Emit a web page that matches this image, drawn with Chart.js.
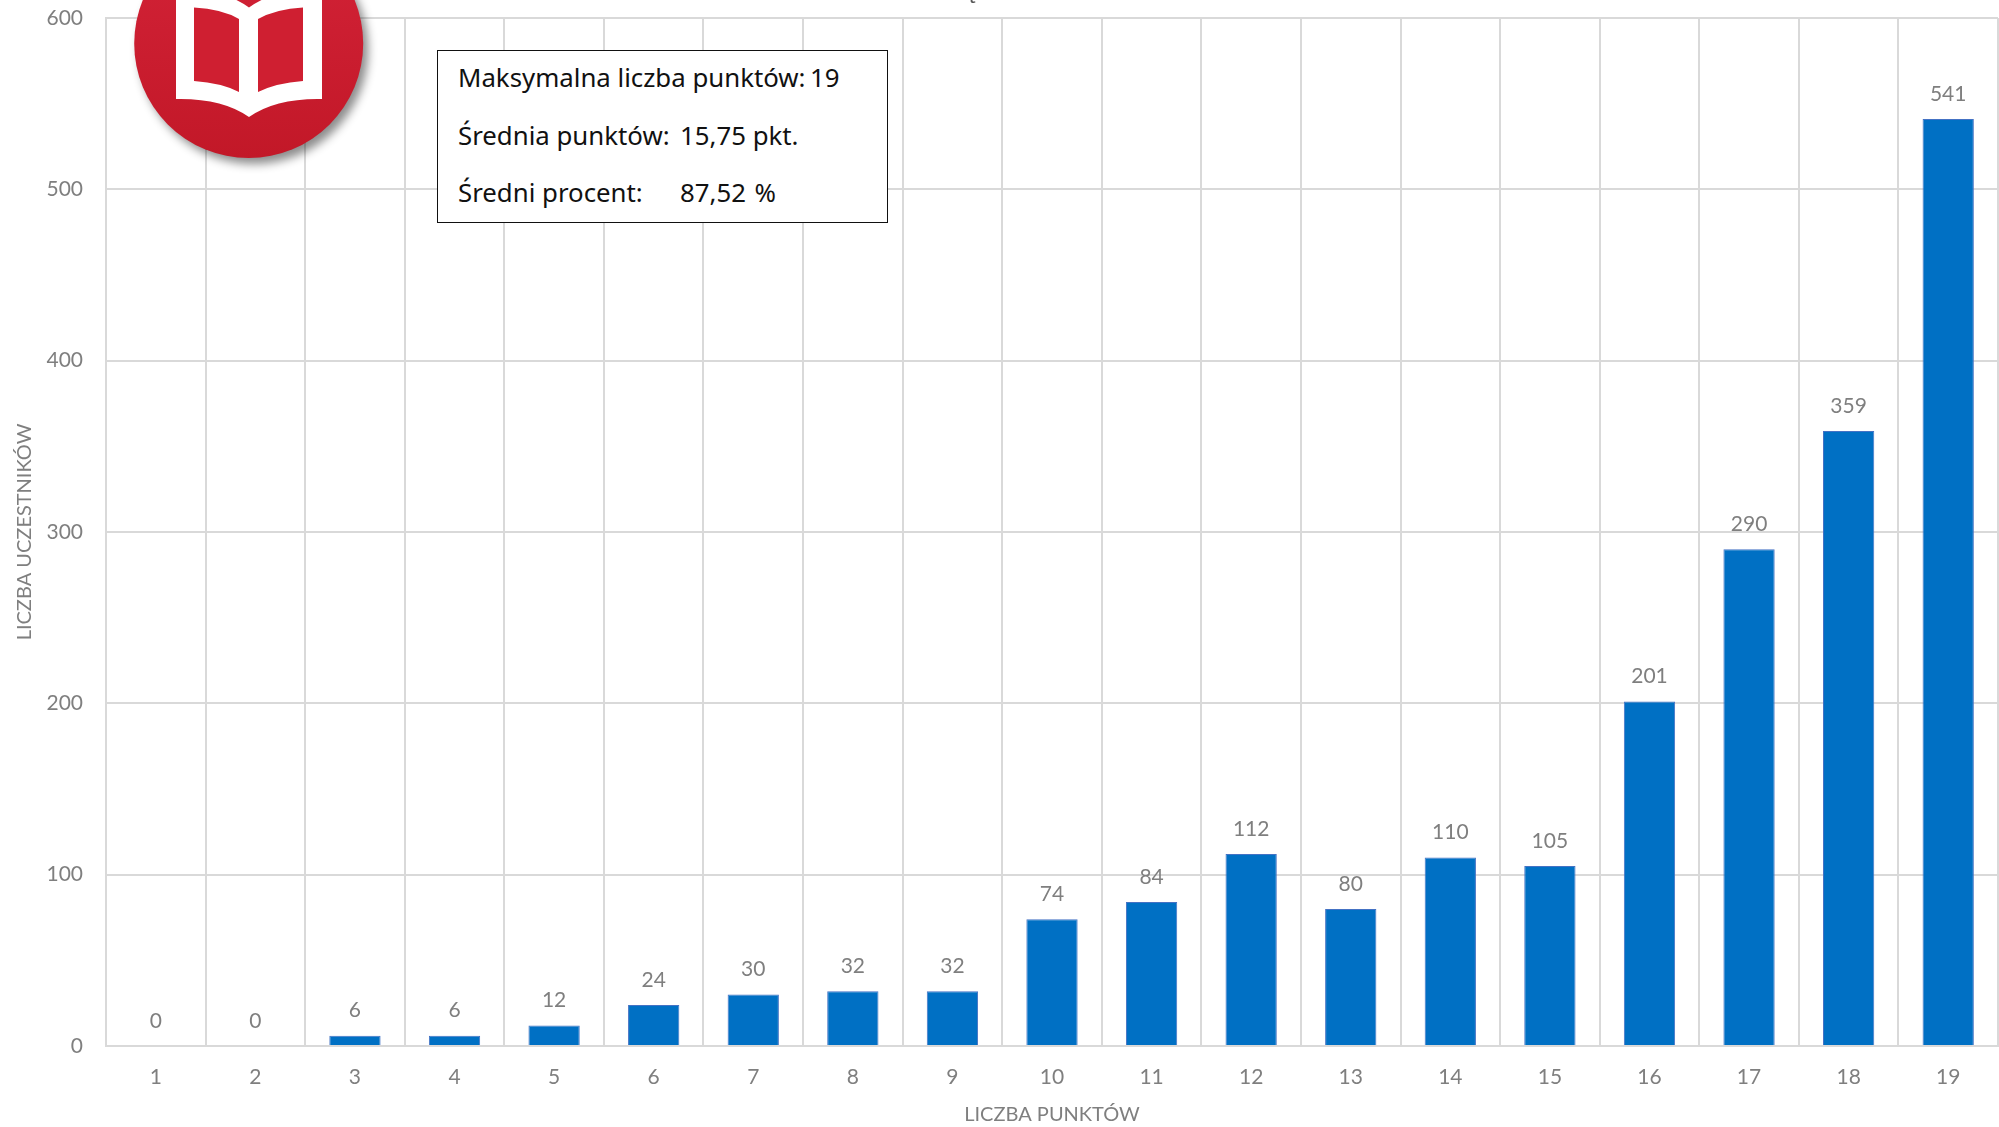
<!DOCTYPE html>
<html lang="pl">
<head>
  <meta charset="UTF-8" />
  <title>Liczba punktów</title>
  <script src="https://cdn.jsdelivr.net/npm/chart.js"></script>
  <style>
    html, body { margin: 0; padding: 0; background: #fff; overflow: hidden; }
    #wrap { position: relative; width: 1999px; height: 1127px; overflow: hidden; }
    canvas { display: block; }
    #info {
      position: absolute; left: 437px; top: 50px; width: 451px; height: 173px;
      background: #fff; border: 1.5px solid #111; box-sizing: border-box;
      font-family: "Noto Sans", sans-serif; font-size: 25.8px; color: #111;
    }
    #info div { position: absolute; left: 20px; white-space: nowrap; line-height: 36px; }
    #info span { position: absolute; top: 0; }
  </style>
</head>
<body>
  <div id="wrap">
    <canvas id="wykres" width="1999" height="1127"></canvas>
    <div id="info"></div>
  </div>

  <script>
    const categories = ['1','2','3','4','5','6','7','8','9','10','11','12','13','14','15','16','17','18','19'];
    const uczestnicy = [0, 0, 6, 6, 12, 24, 30, 32, 32, 74, 84, 112, 80, 110, 105, 201, 290, 359, 541];
    const yTicks = [0, 100, 200, 300, 400, 500, 600];
    const xTitle = 'LICZBA PUNKTÓW';
    const yTitle = 'LICZBA UCZESTNIKÓW';
    const infoLabels = ['Maksymalna liczba punktów:', 'Średnia punktów:', 'Średni procent:'];
    const infoValues = ['19', '15,75 pkt.', '87,52\u2004%'];

    const szary = '#7f7f7f';
    const siatka = '#d9d9d9';
    const font = { family: 'Lato, sans-serif', size: 21 };
    const titleFont = { family: 'Lato, sans-serif', size: 20 };

    // ramka z podsumowaniem
    const info = document.getElementById('info');
    const valueLeft = [352, 222, 222];
    const lineTop = [8, 66, 123];
    infoLabels.forEach((txt, i) => {
      const line = document.createElement('div');
      line.style.top = lineTop[i] + 'px';
      line.textContent = txt;
      const val = document.createElement('span');
      val.style.left = valueLeft[i] + 'px';
      val.textContent = infoValues[i];
      line.appendChild(val);
      info.appendChild(line);
    });

    // etykiety nad słupkami
    const valueLabels = {
      id: 'valueLabels',
      afterDatasetsDraw(chart) {
        const ctx = chart.ctx;
        ctx.save();
        ctx.font = '21px Lato, sans-serif';
        ctx.fillStyle = szary;
        ctx.textAlign = 'center';
        ctx.textBaseline = 'middle';
        chart.getDatasetMeta(0).data.forEach((bar, i) => {
          ctx.fillText(uczestnicy[i], bar.x, bar.y - 25);
        });
        ctx.restore();
      }
    };

    // logo z książką
    const logo = {
      id: 'logo',
      afterDraw(chart) {
        const ctx = chart.ctx;
        const cx = 248.7, cy = 43.5, r = 114.5;
        ctx.save();
        const grad = ctx.createLinearGradient(0, cy - r, 0, cy + r);
        grad.addColorStop(0, '#d42338');
        grad.addColorStop(1, '#c21828');
        ctx.shadowColor = 'rgba(0,0,0,0.45)';
        ctx.shadowBlur = 10;
        ctx.shadowOffsetX = 5;
        ctx.shadowOffsetY = 6;
        ctx.fillStyle = grad;
        ctx.beginPath();
        ctx.arc(cx, cy, r, 0, Math.PI * 2);
        ctx.fill();
        ctx.shadowColor = 'transparent';

        // biała okładka
        ctx.fillStyle = '#fff';
        ctx.beginPath();
        ctx.moveTo(176, -12);
        ctx.lineTo(176, 99);
        ctx.quadraticCurveTo(222, 98, 249, 117);
        ctx.quadraticCurveTo(276, 98, 322, 99);
        ctx.lineTo(322, -12);
        ctx.quadraticCurveTo(276, -12, 249, 7.5);
        ctx.quadraticCurveTo(222, -12, 176, -12);
        ctx.closePath();
        ctx.fill();

        // strony
        ctx.fillStyle = '#cf1f31';
        ctx.beginPath();
        ctx.moveTo(194, 7.5);
        ctx.quadraticCurveTo(222, 9, 239, 19);
        ctx.lineTo(239, 92);
        ctx.quadraticCurveTo(222, 83, 194, 81);
        ctx.closePath();
        ctx.moveTo(303, 7.5);
        ctx.quadraticCurveTo(276, 9, 258, 19);
        ctx.lineTo(258, 92);
        ctx.quadraticCurveTo(276, 83, 303, 81);
        ctx.closePath();
        ctx.fill();

        // ucięty tytuł u góry strony
        ctx.font = '27px Lato, sans-serif';
        ctx.fillStyle = '#595959';
        ctx.textAlign = 'center';
        ctx.textBaseline = 'alphabetic';
        ctx.fillText('ę', 972, -2);
        ctx.restore();
      }
    };

    new Chart(document.getElementById('wykres'), {
      type: 'bar',
      data: {
        labels: categories,
        datasets: [{
          data: uczestnicy,
          backgroundColor: '#0070c4',
          borderColor: '#4472c4',
          borderWidth: 1,
          barPercentage: 0.515,
          categoryPercentage: 1
        }]
      },
      options: {
        responsive: false,
        animation: false,
        devicePixelRatio: 1,
        layout: { padding: { top: 18, right: 1, left: 0, bottom: 0 } },
        plugins: { legend: { display: false }, tooltip: { enabled: false } },
        scales: {
          x: {
            afterFit(scale) { scale.height = 81; },
            grid: { color: siatka, lineWidth: 2, drawTicks: false },
            border: { color: siatka, width: 2 },
            ticks: { color: szary, font, padding: 19, maxRotation: 0 },
            title: { display: true, text: xTitle, color: szary, font: titleFont, padding: { top: 0, bottom: 0 } }
          },
          y: {
            min: 0,
            max: 600,
            afterFit(scale) { scale.width = 106; scale.paddingTop = 0; scale.paddingBottom = 0; },
            afterBuildTicks(scale) { scale.ticks = yTicks.map(v => ({ value: v })); },
            grid: { color: siatka, lineWidth: 2, drawTicks: false },
            border: { color: siatka, width: 2 },
            ticks: { color: szary, font, padding: 23 },
            title: { display: true, text: yTitle, color: szary, font: titleFont, padding: { top: 13, bottom: 0 } }
          }
        }
      },
      plugins: [valueLabels, logo]
    });
  </script>
</body>
</html>
